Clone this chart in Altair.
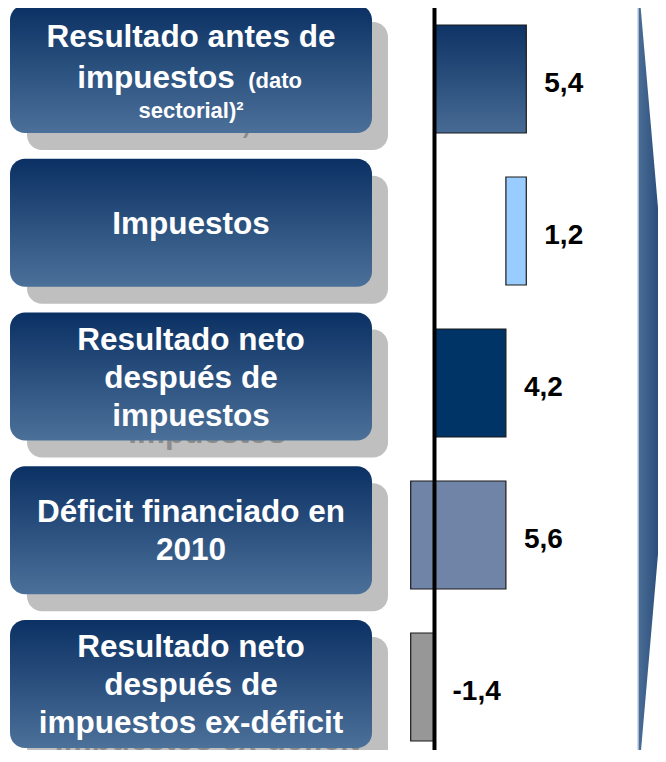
import altair as alt
import pandas as pd

# ---------------- data ----------------
rows = [0, 1, 2, 3, 4]
box_text = [
    "Resultado antes de\nimpuestos (dato\nsectorial)²",
    "Impuestos",
    "Resultado neto\ndespués de\nimpuestos",
    "Déficit financiado en\n2010",
    "Resultado neto\ndespués de\nimpuestos ex-déficit",
]
box1_big = ["Resultado antes de", "impuestos"]
box1_small = ["(dato", "sectorial)²"]

values = [5.4, 1.2, 4.2, 5.6, -1.4]
kinds = ["total", "down", "total", "down", "total"]
bar_colors = ["#2a4d7c", "#99ccff", "#003366", "#7084a7", "#979797"]

# waterfall geometry from the values
lo, hi, level = [], [], 0.0
for v, k in zip(values, kinds):
    if k == "total":
        a, b = 0.0, v
        level = v
    else:
        b = level
        a = level - v
        level = a
    lo.append(min(a, b))
    hi.append(max(a, b))

bars = pd.DataFrame({
    "row": rows, "lo": lo, "hi": hi, "color": bar_colors,
    "label": [f"{v:.1f}".replace(".", ",") for v in values],
    "zero": [0.0] * len(rows),
})
boxes = pd.DataFrame({"row": rows})

# one table row per text line (boxes 2-5)
line_recs = []
for r, t in zip(rows, box_text):
    if r == 0:
        continue
    parts = t.split("\n")
    for j, p in enumerate(parts):
        line_recs.append({"row": r, "j": j, "n": len(parts), "text": p})
lines = pd.DataFrame(line_recs)
box1 = pd.DataFrame({"row": [0], "t0": [box1_big[0]], "t1": [box1_big[1]],
                     "s0": [box1_small[0]], "s1": [box1_small[1]]})

# ---------------- layout ----------------
W, H = 650, 742
FONT = "Liberation Sans"
ROW = 152.0                 # px per row unit
PX = 1.0 / ROW
BOX_STEP = 153.75 / ROW
X0, XS = -25.088, 17.0      # x scale: data value at px 0, px per unit

xscale = alt.Scale(domain=[X0, X0 + W / XS], nice=False, zero=False)
yscale = alt.Scale(domain=[0, 5], range=[-3, -3 + 5 * ROW], nice=False, zero=False)

def yfield(name):
    return alt.Y(f"{name}:Q", scale=yscale, axis=None)

def px2x(p):
    return X0 + p / XS

def px2y(p):
    return (p + 3) * PX

box_grad = alt.Gradient(
    gradient="linear", x1=0, x2=0, y1=0, y2=1,
    stops=[alt.GradientStop(color="#0b3164", offset=0),
           alt.GradientStop(color="#4b7099", offset=1)],
)
bar1_grad = alt.Gradient(
    gradient="linear", x1=0, x2=0, y1=0, y2=1,
    stops=[alt.GradientStop(color="#0e3365", offset=0),
           alt.GradientStop(color="#476b94", offset=1)],
)
wedge_grad = alt.Gradient(
    gradient="linear", x1=0, x2=1, y1=0, y2=0,
    stops=[alt.GradientStop(color="#4a6e96", offset=0),
           alt.GradientStop(color="#18366a", offset=1)],
)

# decorative wedge (arrow) on the right
WL, WT = 630, 665
wedge_df = pd.DataFrame({
    "wy": [px2y(-31), px2y(373), px2y(777)],
    "wx": [px2x(WL)] * 3,
    "wx2": [px2x(WL), px2x(WT), px2x(WL)],
})
wedge = alt.Chart(wedge_df).mark_area(orient="horizontal", fill=wedge_grad).encode(
    y=yfield("wy"),
    x=alt.X("wx:Q", scale=xscale, axis=None),
    x2="wx2:Q",
)
wedge_edge = alt.Chart(wedge_df.head(1)).mark_rule(color="#c3cfe0", strokeWidth=1.5).encode(
    x=alt.X("wx:Q", scale=xscale, axis=None), y=alt.value(0), y2=alt.value(H)
)

def box_calc(ch):
    return ch.transform_calculate(
        b_top=f"datum.row * {BOX_STEP}",
        b_bot=f"datum.row * {BOX_STEP} + {128 * PX}",
        s_top=f"datum.row * {BOX_STEP} + {17 * PX}",
        s_bot=f"datum.row * {BOX_STEP} + {145 * PX}",
        b_mid=f"datum.row * {BOX_STEP} + {64 * PX}",
    )

base_box = box_calc(alt.Chart(boxes))

shadows = base_box.mark_rect(cornerRadius=15, color="#bfbfbf").encode(
    x=alt.value(19), x2=alt.value(380), y=yfield("s_top"), y2="s_bot:Q",
)
main_boxes = base_box.mark_rect(cornerRadius=15, fill=box_grad).encode(
    x=alt.value(2), x2=alt.value(364), y=yfield("b_top"), y2="b_bot:Q",
)

LH = 38
def box_texts(color, ddx, ddy, ddx1, ddy1):
    rest = alt.Chart(lines).transform_calculate(
        ly=f"datum.row * {BOX_STEP} + ({64 + 2} + (datum.j - (datum.n - 1) / 2) * {LH}) * {PX}"
    ).mark_text(
        fontSize=31.5, fontWeight="bold", font=FONT, color=color,
        align="center", baseline="middle", dx=ddx, dy=ddy,
    ).encode(x=alt.value(183), y=yfield("ly"), text="text:N")
    c1 = box_calc(alt.Chart(box1))
    common = dict(font=FONT, fontWeight="bold", color=color, baseline="middle",
                  align="center")
    enc = dict(x=alt.value(183), y=yfield("b_mid"))
    l0 = c1.mark_text(fontSize=31.5, dx=0 + ddx1, dy=-31 + ddy1, **common).encode(text="t0:N", **enc)
    l1 = c1.mark_text(fontSize=31.5, dx=-35 + ddx1, dy=10 + ddy1, **common).encode(text="t1:N", **enc)
    l2 = c1.mark_text(fontSize=22, dx=84 + ddx1, dy=12 + ddy1, **common).encode(text="s0:N", **enc)
    l3 = c1.mark_text(fontSize=22, dx=0 + ddx1, dy=42 + ddy1, **common).encode(text="s1:N", **enc)
    return [rest, l0, l1, l2, l3]

ghost = box_texts("#8c8c8c", 16, 17, 14, 15)
front_text = box_texts("white", 0, 0, 0, 0)

bar_base = alt.Chart(bars).transform_calculate(
    r_top=f"datum.row + {20 * PX}",
    r_bot=f"datum.row + {128 * PX}",
    r_mid=f"datum.row + {74 * PX}",
)
bar_enc = dict(
    x=alt.X("lo:Q", scale=xscale, axis=None),
    x2="hi:Q",
    y=yfield("r_top"), y2="r_bot:Q",
)
bars_plain = bar_base.transform_filter("datum.row > 0").mark_rect(
    stroke="#1a1a1a", strokeWidth=1.2
).encode(fill=alt.Fill("color:N", scale=None), **bar_enc)
bar_first = bar_base.transform_filter("datum.row == 0").mark_rect(
    fill=bar1_grad, stroke="#1a1a1a", strokeWidth=1.2
).encode(**bar_enc)

axis_line = alt.Chart(bars.head(1)).mark_rule(color="black", strokeWidth=4).encode(
    x=alt.X("zero:Q", scale=xscale, axis=None), y=alt.value(0), y2=alt.value(H)
)

labels = bar_base.mark_text(
    font=FONT, fontWeight="bold", fontSize=28, color="black",
    align="left", baseline="middle", dx=18, dy=5,
).encode(
    x=alt.X("hi:Q", scale=xscale, axis=None),
    y=yfield("r_mid"),
    text="label:N",
)

chart = alt.layer(
    wedge, wedge_edge, shadows, *ghost, main_boxes, *front_text,
    bars_plain, bar_first, axis_line, labels,
).properties(
    width=W, height=H, padding=0, autosize=alt.AutoSizeParams(type="none"),
    background="white",
).configure_view(strokeWidth=0)

chart.save("out.html", embed_options={"renderer": "svg", "actions": False})
